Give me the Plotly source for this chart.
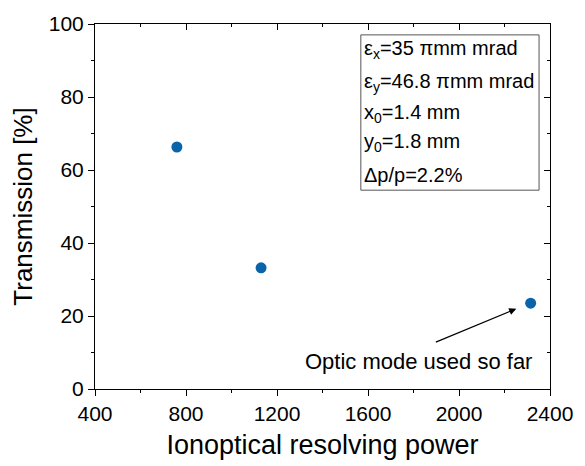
import plotly.graph_objects as go

resolving_power = [760, 1130, 2315]
transmission = [66.3, 33.2, 23.5]
x_ticks = [400, 800, 1200, 1600, 2000, 2400]
y_ticks = [0, 20, 40, 60, 80, 100]
params = ["ε<sub>x</sub>=35 πmm mrad", "ε<sub>y</sub>=46.8 πmm mrad",
          "x<sub>0</sub>=1.4 mm", "y<sub>0</sub>=1.8 mm", "Δp/p=2.2%"]
note = "Optic mode used so far"

FONT = "Liberation Sans, Arial, sans-serif"
W, H = 585, 466
L, R, T, B = 95, 33, 21, 76
pw, ph = W - L - R, H - T - B

def px(x):
    return (x - L) / pw

def py(y):
    return (H - B - y) / ph

fig = go.Figure()
fig.add_trace(go.Scatter(x=resolving_power, y=transmission, mode="markers",
                         marker=dict(color="#0a64aa", size=11), showlegend=False))
fig.add_trace(go.Scatter(x=[None], y=[None], xaxis="x2", yaxis="y2", showlegend=False))

axcommon = dict(showgrid=False, zeroline=False, linecolor="black", linewidth=1,
                ticklen=6, tickcolor="black", tickwidth=1,
                tickfont=dict(family=FONT, size=21, color="black"))
fig.update_layout(
    width=W, height=H, margin=dict(l=L, r=R, t=T, b=B),
    paper_bgcolor="white", plot_bgcolor="white",
    xaxis=dict(range=[400, 2400], tickvals=x_ticks, ticks="outside",
               minor=dict(ticks="outside", ticklen=3, dtick=200, tickcolor="black"),
               title=dict(text="Ionoptical resolving power", font=dict(family=FONT, size=27, color="black"), standoff=10),
               **axcommon),
    yaxis=dict(range=[0, 100], tickvals=y_ticks, ticks="outside",
               minor=dict(ticks="outside", ticklen=3, dtick=10, tickcolor="black"),
               title=dict(text="Transmission [%]", font=dict(family=FONT, size=26, color="black"), standoff=8),
               **axcommon),
    xaxis2=dict(range=[400, 2400], tickvals=x_ticks, ticks="inside", overlaying="x", side="top",
                showticklabels=False, anchor="y2",
                minor=dict(ticks="inside", ticklen=3, dtick=200, tickcolor="black"), **axcommon),
    yaxis2=dict(range=[0, 100], tickvals=y_ticks, ticks="inside", overlaying="y", side="right",
                showticklabels=False, anchor="x2",
                minor=dict(ticks="inside", ticklen=3, dtick=10, tickcolor="black"), **axcommon),
)

fig.add_shape(type="rect", xref="paper", yref="paper",
              x0=px(362), x1=px(541), y0=py(189), y1=py(32),
              line=dict(color="#555555", width=1), fillcolor="rgba(0,0,0,0)")
line_y = [47, 80, 111, 141, 174]
for txt, yy in zip(params, line_y):
    fig.add_annotation(xref="paper", yref="paper", x=px(363), y=py(yy),
                       xanchor="left", yanchor="middle", text=txt, showarrow=False,
                       font=dict(family=FONT, size=20, color="black"))

fig.add_annotation(x=2252, y=22, ax=-82, ay=34, text="", showarrow=True,
                   arrowhead=2, arrowsize=1.2, arrowwidth=1.2, arrowcolor="black")
fig.add_annotation(xref="paper", yref="paper", x=px(420), y=py(362),
                   xanchor="center", yanchor="middle", text=note, showarrow=False,
                   font=dict(family=FONT, size=22, color="black"))

fig.write_html("out.html")
